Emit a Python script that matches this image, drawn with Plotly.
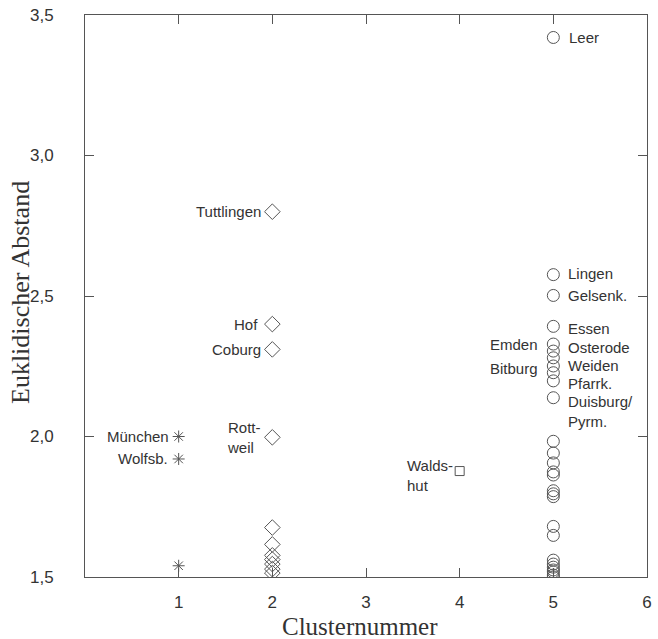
import plotly.graph_objects as go

# Euclidean distance of each district to its cluster centre, by cluster number
cluster1_values = [2.00, 1.92, 1.54]
cluster1_labels = ["München", "Wolfsb.", ""]

cluster2_values = [2.80, 2.40, 2.31, 1.997, 1.676, 1.616, 1.577, 1.562, 1.546, 1.528, 1.514]
cluster2_labels = ["Tuttlingen", "Hof", "Coburg", "Rott-<br>weil", "", "", "", "", "", "", ""]

cluster4_values = [1.877]
cluster4_labels = ["Walds-<br>hut"]

cluster5_values = [3.42, 2.576, 2.502, 2.392, 2.329, 2.304, 2.280, 2.251, 2.227, 2.198, 2.138,
                   1.983, 1.941, 1.906, 1.874, 1.863, 1.807, 1.796, 1.786, 1.680, 1.648,
                   1.560, 1.546, 1.535, 1.525, 1.518, 1.507, 1.500]
cluster5_labels = ["Leer", "Lingen", "Gelsenk.", "Essen", "Emden", "Osterode", "", "Weiden",
                   "Bitburg", "Pfarrk.", "Duisburg/<br>Pyrm.", "", "", "", "", "", "", "", "",
                   "", "", "", "", "", "", "", "", ""]

x_ticks = [1, 2, 3, 4, 5, 6]
y_ticks = [1.5, 2.0, 2.5, 3.0, 3.5]

INK = "#333333"
LINE = "#555555"
SANS = "Liberation Sans, Arial, sans-serif"
SERIF = "Liberation Serif, Times New Roman, serif"

fig = go.Figure()

def add_cluster(num, values, symbol, size):
    fig.add_trace(go.Scatter(
        x=[num] * len(values), y=values, mode="markers",
        marker=dict(symbol=symbol, size=size, color=LINE,
                    line=dict(color=LINE, width=1)),
        showlegend=False, hoverinfo="y",
    ))

add_cluster(1, cluster1_values, "asterisk-open", 10)
add_cluster(2, cluster2_values, "diamond-open", 12)
add_cluster(4, cluster4_values, "square-open", 9)
add_cluster(5, cluster5_values, "circle-open", 12)

# label placement per name: (side, xshift, yshift)
placement = {
    "München": ("left", -8, 0),
    "Wolfsb.": ("left", -9, 0),
    "Tuttlingen": ("left", -9, 0),
    "Hof": ("left", -12, 0),
    "Coburg": ("left", -9, 0),
    "Rott-<br>weil": ("left", -9, 0),
    "Walds-<br>hut": ("left", -5, -4),
    "Leer": ("right", 14, 0),
    "Lingen": ("right", 13, 1),
    "Gelsenk.": ("right", 13, 0),
    "Essen": ("right", 13, -2),
    "Emden": ("left", -13, 0),
    "Osterode": ("right", 13, 4),
    "Weiden": ("right", 13, 0),
    "Bitburg": ("left", -13, 4),
    "Pfarrk.": ("right", 13, -3),
    "Duisburg/<br>Pyrm.": ("right", 13, -14),
}

annotations = []
for num, vals, labs in [(1, cluster1_values, cluster1_labels),
                        (2, cluster2_values, cluster2_labels),
                        (4, cluster4_values, cluster4_labels),
                        (5, cluster5_values, cluster5_labels)]:
    for v, lab in zip(vals, labs):
        if not lab:
            continue
        side, xs, ys = placement[lab]
        annotations.append(dict(
            x=num, y=v, text=lab, showarrow=False,
            xanchor="right" if side == "left" else "left",
            yanchor="middle", align="left",
            xshift=xs, yshift=ys,
            font=dict(family=SANS, size=15, color=INK),
        ))

# axis titles
annotations.append(dict(
    x=0.49, y=-0.088, xref="paper", yref="paper", text="Clusternummer", showarrow=False,
    xanchor="center", yanchor="middle", font=dict(family=SERIF, size=25, color=INK),
))
annotations.append(dict(
    x=-0.115, y=0.506, xref="paper", yref="paper", text="Euklidischer Abstand",
    showarrow=False, textangle=-90, xanchor="center", yanchor="middle",
    font=dict(family=SERIF, size=26, color=INK),
))

fig.update_layout(
    width=658, height=639,
    margin=dict(l=85, r=6, t=10, b=62),
    plot_bgcolor="white", paper_bgcolor="white",
    separators=",.",
    annotations=annotations,
    font=dict(family=SANS, color=INK),
)

fig.update_xaxes(
    range=[0, 6], tickvals=x_ticks, ticks="inside", ticklen=9, tickcolor=LINE,
    showgrid=False, zeroline=False, showline=True, linecolor=LINE, linewidth=1,
    mirror="ticks", ticklabelstandoff=10, ticklabeloverflow="allow",
    tickfont=dict(family=SANS, size=17, color=INK),
)
fig.update_yaxes(
    range=[1.5, 3.5], tickvals=y_ticks, tickformat=".1f", ticks="inside", ticklen=9,
    tickcolor=LINE, showgrid=False, zeroline=False, showline=True, linecolor=LINE,
    linewidth=1, mirror="ticks", ticklabelstandoff=27, ticklabeloverflow="allow",
    tickfont=dict(family=SANS, size=17, color=INK),
)

fig.write_html("out.html")
